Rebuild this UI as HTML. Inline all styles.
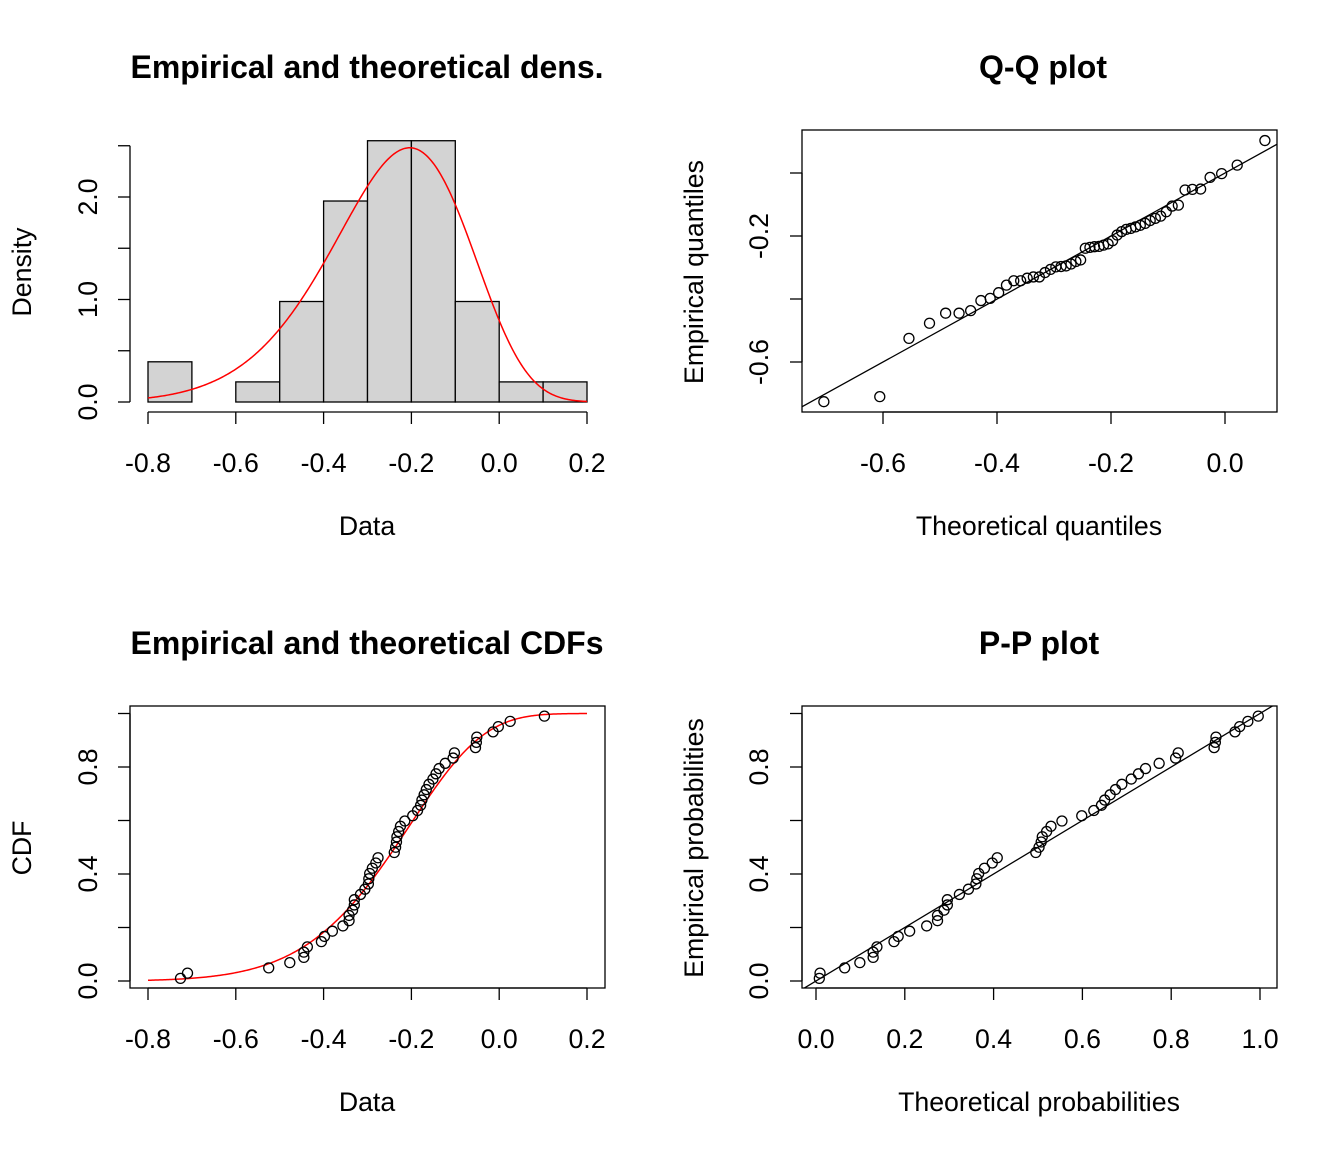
<!DOCTYPE html>
<html><head><meta charset="utf-8"><style>
html,body{margin:0;padding:0;background:#fff;}
svg{display:block;font-family:"Liberation Sans",Arial,sans-serif;}
</style></head><body>
<svg id="chart" width="1344" height="1152" viewBox="0 0 1344 1152" xmlns="http://www.w3.org/2000/svg">
<defs>
<clipPath id="clipQQ"><rect x="802" y="130" width="475" height="282"/></clipPath>
<clipPath id="clipPP"><rect x="802" y="706" width="475" height="282"/></clipPath>
<clipPath id="clipCDF"><rect x="130" y="706" width="475" height="282"/></clipPath>
</defs>
</svg>
<script>
// sorted observations
const dataValues = [-0.726,-0.710,-0.525,-0.477,-0.445,-0.445,-0.437,-0.405,-0.398,-0.380,-0.356,-0.342,-0.342,-0.334,-0.330,-0.330,-0.316,-0.306,-0.298,-0.297,-0.295,-0.289,-0.281,-0.276,-0.239,-0.236,-0.234,-0.233,-0.229,-0.225,-0.215,-0.197,-0.186,-0.179,-0.176,-0.171,-0.166,-0.160,-0.151,-0.144,-0.137,-0.123,-0.105,-0.102,-0.054,-0.052,-0.051,-0.014,-0.002,0.025,0.103];
// fitted distribution parameters (shifted Weibull)
const fitShape = [7.73];
const fitScale = [1.1566];
const fitShift = [1.34];
const histBreaks = [-0.8,-0.7,-0.6,-0.5,-0.4,-0.3,-0.2,-0.1,0.0,0.1,0.2];
const densTicks = [0,0.5,1,1.5,2,2.5];
const densTickLabels = ["0.0","","1.0","","2.0",""];
const dataTicks = [-0.8,-0.6,-0.4,-0.2,0.0,0.2];
const dataTickLabels = ["-0.8","-0.6","-0.4","-0.2","0.0","0.2"];
const qqXTicks = [-0.6,-0.4,-0.2,0.0];
const qqXTickLabels = ["-0.6","-0.4","-0.2","0.0"];
const qqYTicks = [-0.6,-0.4,-0.2,0.0];
const qqYTickLabels = ["-0.6","","-0.2",""];
const probTicks = [0,0.2,0.4,0.6,0.8,1.0];
const probYTickLabels = ["0.0","","0.4","","0.8",""];
const probXTickLabels = ["0.0","0.2","0.4","0.6","0.8","1.0"];

const NS="http://www.w3.org/2000/svg";
const svg=document.getElementById('chart');
function mk(tag,attrs,parent){const e=document.createElementNS(NS,tag);for(const k in attrs)e.setAttribute(k,attrs[k]);(parent||svg).appendChild(e);return e;}
const k=fitShape[0],lam=fitScale[0],c=fitShift[0];
function pdf(x){const z=(x+c)/lam;if(z<=0)return 0;return (k/lam)*Math.pow(z,k-1)*Math.exp(-Math.pow(z,k));}
function cdf(x){const z=(x+c)/lam;if(z<=0)return 0;return 1-Math.exp(-Math.pow(z,k));}
function qf(p){return lam*Math.pow(-Math.log(1-p),1/k)-c;}
const n=dataValues.length;
const sorted=dataValues.slice().sort((a,b)=>a-b);
const pp=sorted.map((v,i)=>(i+0.5)/n);

// scales
const X1=v=>148+(v+0.8)*439;
const Y1=d=>402-d*102.5;
const XQ=v=>1225+v*570;
const YQ=v=>236-(v+0.2)*315;
const YP=p=>981-p*267.5;
const XP=p=>816+p*444;

function text(str,x,y,opts,name){
  const t=mk('text',Object.assign({x:x,y:y,'text-anchor':'middle','font-size':'26.7px',fill:'#000'},opts||{}));
  t.textContent=str;
  
  
  return t;
}
function vtext(str,x,y,size,name){
  const t=mk('text',{x:0,y:0,'text-anchor':'middle','font-size':size,transform:'translate('+x+','+y+') rotate(-90)',fill:'#000'});
  t.textContent=str;
  
  
  return t;
}
function line(x1,y1,x2,y2,name,extra){
  const l=mk('line',Object.assign({x1:x1,y1:y1,x2:x2,y2:y2,stroke:'#000','stroke-width':1.3},extra||{}));
  
  
  return l;
}
function box(x,y,w,h,name){
  const r=mk('rect',{x:x,y:y,width:w,height:h,fill:'none',stroke:'#000','stroke-width':1.3});
  
  
}
function pt(x,y,name,parent){
  const e=mk('circle',{cx:x,cy:y,r:5,fill:'none',stroke:'#000','stroke-width':1.3},parent);
  
  
}
function xAxis(ticks,labels,X,yAxis,labY,name){
  line(X(ticks[0]),yAxis,X(ticks[ticks.length-1]),yAxis,name+'-line');
  ticks.forEach((t,i)=>{line(X(t),yAxis,X(t),yAxis+12,name+'-tick');if(labels[i])text(labels[i],X(t),labY,{},name+'-label');});
}
function yAxis(ticks,labels,Y,xAxisPos,labX,name){
  line(xAxisPos,Y(ticks[0]),xAxisPos,Y(ticks[ticks.length-1]),name+'-line');
  ticks.forEach((t,i)=>{line(xAxisPos,Y(t),xAxisPos-12,Y(t),name+'-tick');if(labels[i])vtext(labels[i],labX,Y(t),'26.7px',name+'-label');});
}

// ---------- Panel 1: density histogram ----------
text('Empirical and theoretical dens.',367,78,{'font-size':'32px','font-weight':'bold'},'density-title');
const counts=histBreaks.slice(0,-1).map((b,i)=>sorted.filter(v=>(i===0? v>=b : v>b) && v<=histBreaks[i+1]).length);
counts.forEach((cnt,i)=>{
  const d=cnt/(n*(histBreaks[i+1]-histBreaks[i]));
  if(d<=0)return;
  const r=mk('rect',{x:X1(histBreaks[i]),y:Y1(d),width:X1(histBreaks[i+1])-X1(histBreaks[i]),height:Y1(0)-Y1(d),fill:'#d3d3d3',stroke:'#000','stroke-width':1.3});
  
  
});
{
  let dstr='';for(let i=0;i<=300;i++){const x=-0.8+i/300;dstr+=(i?'L':'M')+X1(x).toFixed(2)+','+Y1(pdf(x)).toFixed(2);}
  const p=mk('path',{d:dstr,fill:'none',stroke:'#ff0000','stroke-width':1.5});
  
  
}
xAxis(dataTicks,dataTickLabels,X1,412,472,'density-x-axis');
yAxis(densTicks,densTickLabels,Y1,130,97,'density-y-axis');
text('Data',367,535,{},'density-x-title');
vtext('Density',31,272,'26.7px','density-y-title');

// ---------- Panel 2: Q-Q plot ----------
text('Q-Q plot',1043,78,{'font-size':'32px','font-weight':'bold'},'qq-title');
box(802,130,475,282,'qq-plot-box');
{
  const g=mk('g',{'clip-path':'url(#clipQQ)'});
  const l=mk('line',{x1:XQ(-1),y1:YQ(-1),x2:XQ(0.3),y2:YQ(0.3),stroke:'#000','stroke-width':1.3},g);
  
  
  sorted.forEach((v,i)=>pt(XQ(qf(pp[i])),YQ(v),'qq-point',g));
}
xAxis(qqXTicks,qqXTickLabels,XQ,412,472,'qq-x-axis');
yAxis(qqYTicks,qqYTickLabels,YQ,802,768,'qq-y-axis');
text('Theoretical quantiles',1039,535,{},'qq-x-title');
vtext('Empirical quantiles',703,272,'26.7px','qq-y-title');

// ---------- Panel 3: CDF ----------
text('Empirical and theoretical CDFs',367,654,{'font-size':'32px','font-weight':'bold'},'cdf-title');
box(130,706,475,282,'cdf-plot-box');
{
  const g=mk('g',{'clip-path':'url(#clipCDF)'});
  let dstr='';for(let i=0;i<=300;i++){const x=-0.8+i/300;dstr+=(i?'L':'M')+X1(x).toFixed(2)+','+YP(cdf(x)).toFixed(2);}
  const p=mk('path',{d:dstr,fill:'none',stroke:'#ff0000','stroke-width':1.5},g);
  
  
  sorted.forEach((v,i)=>pt(X1(v),YP(pp[i]),'ecdf-point',g));
}
xAxis(dataTicks,dataTickLabels,X1,988,1048,'cdf-x-axis');
yAxis(probTicks,probYTickLabels,YP,130,97,'cdf-y-axis');
text('Data',367,1111,{},'cdf-x-title');
vtext('CDF',31,848,'26.7px','cdf-y-title');

// ---------- Panel 4: P-P plot ----------
text('P-P plot',1039,654,{'font-size':'32px','font-weight':'bold'},'pp-title');
box(802,706,475,282,'pp-plot-box');
{
  const g=mk('g',{'clip-path':'url(#clipPP)'});
  const l=mk('line',{x1:XP(-0.2),y1:YP(-0.2),x2:XP(1.2),y2:YP(1.2),stroke:'#000','stroke-width':1.3},g);
  
  
  sorted.forEach((v,i)=>pt(XP(cdf(v)),YP(pp[i]),'pp-point',g));
}
xAxis(probTicks,probXTickLabels,XP,988,1048,'pp-x-axis');
yAxis(probTicks,probYTickLabels,YP,802,768,'pp-y-axis');
text('Theoretical probabilities',1039,1111,{},'pp-x-title');
vtext('Empirical probabilities',703,848,'26.7px','pp-y-title');
</script>
</body></html>
